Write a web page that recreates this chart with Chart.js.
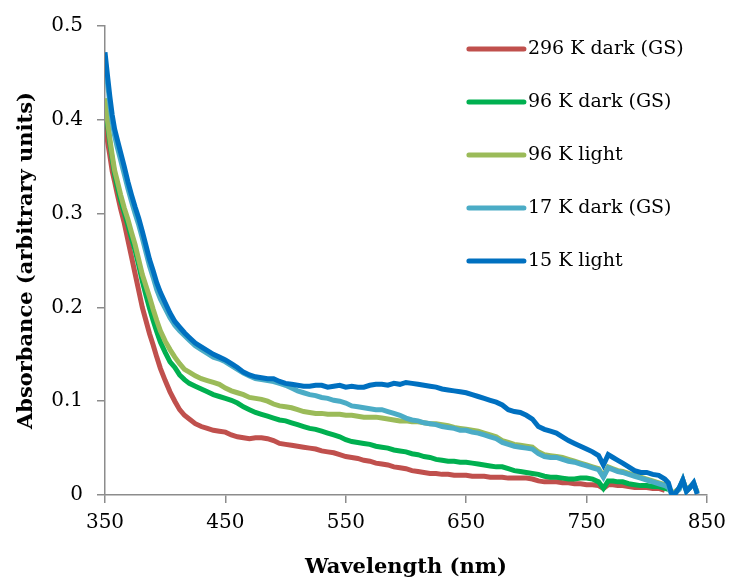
<!DOCTYPE html>
<html>
<head>
<meta charset="utf-8">
<title>Absorbance spectra</title>
<script src="https://cdn.jsdelivr.net/npm/chart.js@4.4.1/dist/chart.umd.min.js"></script>
<style>
  html, body { margin: 0; padding: 0; background: #fff; }
  #wrap { width: 734px; height: 583px; }
</style>
</head>
<body>
<div id="wrap"><canvas id="absChart"></canvas></div>
<script>
// wavelengths (nm) shared by all series
const wavelengths = [350,352,354,356,358,360,363,366,369,372,375,378,381,384,387,390,393,396,
  400,404,408,412,416,
  420,425,430,435,440,445,450,455,460,465,470,475,480,485,490,495,500,505,510,515,520,525,530,535,540,545,
  550,555,560,565,570,575,580,585,590,595,600,605,610,615,620,625,630,635,640,645,650,655,660,665,670,675,
  680,685,690,695,700,705,710,715,720,725,730,735,740,745,750,755,760,
  764,768,772,776,780,785,790,795,800,805,810,815,818,821,824,827,830,833,836,839,842];

const dark296 = [.395,.378,.362,.345,.334,.322,.305,.290,.272,.254,.236,.218,.200,.186,.172,.160,.147,.135,
  .122,.110,.100,.091,.085,
  .081,.076,.073,.071,.069,.068,.067,.064,.062,.061,.060,.061,.061,.060,.058,.055,.054,.053,.052,.051,.050,.049,.047,.046,.045,.043,
  .041,.040,.039,.037,.036,.034,.033,.032,.030,.029,.028,.026,.025,.024,.023,.023,.022,.022,.021,.021,.021,.020,.020,.020,.019,.019,
  .019,.018,.018,.018,.018,.017,.015,.014,.014,.014,.013,.013,.012,.012,.011,.011,.010,
  .007,.011,.011,.010,.010,.009,.008,.008,.008,.007,.007,.005,null,null,null,null,null,null,null,null,null];

const dark96 = [.418,.396,.376,.358,.342,.330,.314,.301,.288,.274,.261,.245,.228,.213,.199,.186,.174,.163,
  .152,.142,.136,.128,.123,
  .119,.116,.113,.110,.107,.105,.103,.101,.098,.094,.091,.088,.086,.084,.082,.080,.079,.077,.075,.073,.071,.070,.068,.066,.064,.062,
  .059,.057,.056,.055,.054,.052,.051,.050,.048,.047,.046,.044,.043,.041,.040,.038,.037,.036,.036,.035,.035,.034,.033,.032,.031,.030,
  .030,.028,.026,.025,.024,.023,.022,.020,.019,.019,.018,.017,.017,.018,.018,.017,.014,
  .007,.015,.015,.014,.014,.012,.011,.010,.010,.009,.009,.007,.006,null,null,null,null,null,null,null,null];

const light96 = [.423,.400,.380,.362,.346,.336,.320,.306,.294,.280,.267,.251,.235,.223,.211,.198,.186,.175,
  .164,.155,.147,.140,.134,
  .131,.127,.124,.122,.120,.118,.114,.111,.109,.107,.104,.103,.102,.100,.097,.095,.094,.093,.091,.089,.088,.087,.087,.086,.086,.086,
  .085,.085,.084,.083,.083,.083,.082,.081,.080,.079,.079,.078,.078,.077,.076,.076,.075,.074,.072,.071,.070,.069,.068,.066,.064,.062,
  .058,.056,.054,.053,.052,.051,.046,.043,.042,.041,.040,.038,.036,.034,.032,.030,.028,
  .020,.030,.028,.026,.025,.023,.021,.019,.017,.015,.013,.011,.009,.002,.004,.007,.016,.005,.009,.012,.003];

const dark17 = [.458,.440,.418,.398,.383,.372,.357,.342,.327,.313,.300,.288,.274,.259,.244,.232,.219,.209,
  .199,.189,.181,.175,.170,
  .165,.159,.155,.151,.147,.145,.142,.138,.134,.130,.127,.124,.123,.122,.121,.119,.117,.114,.111,.109,.107,.106,.104,.103,.101,.100,
  .098,.095,.094,.093,.092,.091,.091,.089,.087,.085,.082,.080,.079,.077,.076,.075,.073,.072,.071,.069,.069,.067,.066,.064,.062,.060,
  .056,.054,.052,.051,.050,.049,.044,.041,.040,.040,.038,.036,.035,.033,.031,.029,.027,
  .019,.029,.027,.025,.024,.022,.020,.018,.016,.014,.012,.010,.008,.000,.003,.006,.016,.004,.008,.013,.002];

const light15 = [.472,.448,.425,.405,.390,.380,.365,.350,.334,.320,.307,.295,.281,.266,.251,.239,.226,.216,
  .205,.194,.185,.179,.173,
  .168,.162,.158,.154,.150,.147,.144,.140,.136,.131,.128,.126,.125,.124,.124,.121,.119,.118,.117,.116,.116,.117,.117,.115,.116,.117,
  .115,.116,.115,.115,.117,.118,.118,.117,.119,.118,.120,.119,.118,.117,.116,.115,.113,.112,.111,.110,.109,.107,.105,.103,.101,.099,
  .096,.091,.089,.088,.085,.081,.073,.070,.068,.066,.062,.058,.055,.052,.049,.046,.042,
  .032,.043,.040,.037,.034,.030,.026,.024,.024,.022,.021,.017,.013,.000,.002,.008,.016,.004,.008,.013,.001];

const seriesNames = ['296 K dark (GS)', '96 K dark (GS)', '96 K light', '17 K dark (GS)', '15 K light'];
const seriesValues = [dark296, dark96, light96, dark17, light15];
const seriesColors = ['#C0504D', '#00B050', '#9BBB59', '#4BACC6', '#0070C0'];

const yTicks = [0, 0.1, 0.2, 0.3, 0.4, 0.5];
const xTicks = [350, 450, 550, 650, 750, 850];

const axisGray = '#8C8C8C';
const serif = "'DejaVu Serif', 'Liberation Serif', serif";

const datasets = seriesNames.map((name, i) => ({
  label: name,
  data: wavelengths.map((w, j) => ({ x: w, y: seriesValues[i][j] })),
  borderColor: seriesColors[i],
  backgroundColor: seriesColors[i],
  borderWidth: 5,
  pointRadius: 0,
  tension: 0,
  spanGaps: false,
  order: seriesNames.length - i   // later series drawn on top, like the original
}));

// legend drawn inside the plot area, on the right
const insideLegend = {
  id: 'insideLegend',
  afterDatasetsDraw(chart) {
    const { ctx, chartArea } = chart;
    const x0 = chartArea.right - 238;
    const y0 = chartArea.top + 23;
    const gap = 53;
    ctx.save();
    ctx.font = '19px ' + serif;
    ctx.textBaseline = 'middle';
    ctx.textAlign = 'left';
    seriesNames.forEach((name, i) => {
      const y = y0 + i * gap;
      ctx.strokeStyle = seriesColors[i];
      ctx.lineWidth = 5;
      ctx.lineCap = 'round';
      ctx.beginPath();
      ctx.moveTo(x0, y);
      ctx.lineTo(x0 + 55, y);
      ctx.stroke();
      ctx.fillStyle = '#000';
      ctx.fillText(name, x0 + 59, y);
    });
    ctx.restore();
  }
};

new Chart(document.getElementById('absChart').getContext('2d'), {
  type: 'line',
  data: { datasets: datasets },
  options: {
    responsive: true,
    maintainAspectRatio: false,
    animation: false,
    layout: { padding: { top: 24, right: 23, left: 0, bottom: 0 } },
    plugins: { legend: { display: false }, tooltip: { enabled: false } },
    scales: {
      x: {
        type: 'linear',
        min: 350,
        max: 850,
        afterBuildTicks(scale) { scale.ticks = xTicks.map(v => ({ value: v })); },
        afterFit(scale) { scale.height = 88; },
        grid: { drawOnChartArea: false, drawTicks: true, tickLength: 8, color: axisGray, lineWidth: 1.5 },
        border: { color: axisGray, width: 1.5 },
        ticks: { color: '#000', font: { family: serif, size: 20 }, padding: 8, maxRotation: 0 },
        title: { display: true, text: 'Wavelength (nm)', color: '#000',
                 font: { family: serif, size: 21, weight: 'bold' }, padding: { top: 0, bottom: 3 } }
      },
      y: {
        min: 0,
        max: 0.5,
        afterBuildTicks(scale) { scale.ticks = yTicks.map(v => ({ value: v })); },
        afterFit(scale) { scale.width = 105; },
        grid: { drawOnChartArea: false, drawTicks: true, tickLength: 8, color: axisGray, lineWidth: 1.5 },
        border: { color: axisGray, width: 1.5 },
        ticks: { color: '#000', font: { family: serif, size: 20 }, padding: 14,
                 callback: v => String(Math.round(v * 10) / 10) },
        title: { display: true, text: 'Absorbance (arbitrary units)', color: '#000',
                 font: { family: serif, size: 21, weight: 'bold' }, padding: { top: 14, bottom: 0 } }
      }
    }
  },
  plugins: [insideLegend]
});
</script>
</body>
</html>
